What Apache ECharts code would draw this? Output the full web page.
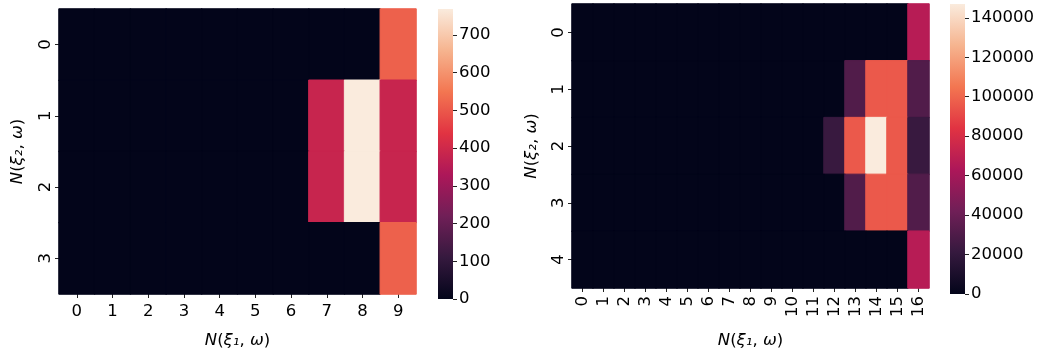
<!DOCTYPE html>
<html><head><meta charset="utf-8">
<script src="https://cdn.jsdelivr.net/npm/echarts@6/dist/echarts.min.js"></script>
<style>html,body{margin:0;padding:0;background:#fff}#c{width:1045px;height:354px}</style>
</head><body><div id="c"></div><script>
// ---- data ----
const leftXCats = ['0','1','2','3','4','5','6','7','8','9'];
const leftYCats = ['0','1','2','3'];
const leftValues = [
  [0,0,0,0,0,0,0,0,0,515],
  [0,0,0,0,0,0,0,384,769,384],
  [0,0,0,0,0,0,0,384,769,384],
  [0,0,0,0,0,0,0,0,0,515]
];
const leftMax = 769;
const leftTickStep = 100;

const rightXCats = ['0','1','2','3','4','5','6','7','8','9','10','11','12','13','14','15','16'];
const rightYCats = ['0','1','2','3','4'];
const rightValues = [
  [0,0,0,0,0,0,0,0,0,0,0,0,0,0,0,0,67000],
  [0,0,0,0,0,0,0,0,0,0,0,0,0,31000,96000,96000,31000],
  [0,0,0,0,0,0,0,0,0,0,0,0,22000,96000,147000,96000,22000],
  [0,0,0,0,0,0,0,0,0,0,0,0,0,31000,96000,96000,31000],
  [0,0,0,0,0,0,0,0,0,0,0,0,0,0,0,0,67000]
];
const rightMax = 147000;
const rightTickStep = 20000;

const rocket = ['#03051A','#35193e','#701f57','#ad1759','#e13342','#f37651','#f6b48f','#FAEBDD'];

// ---- helpers ----
function toCells(vals, max){
  const out = [];
  vals.forEach((row, r) => row.forEach((v, c) => {
    const col = echarts.color.lerp(v / max, rocket);
    out.push({value: [c, r, v], itemStyle: {color: col, borderColor: col, borderWidth: 1}});
  }));
  return out;
}
const FONT = "'DejaVu Sans', sans-serif";
const TXT = '#000';
const FS = 16.5;
const axisTitleRich = {
  i: {fontFamily: FONT, fontSize: 16.5, fontStyle: 'italic', color: TXT},
  n: {fontFamily: FONT, fontSize: 16.5, color: TXT}
};
function title(sub){ return '{i|N}{n|(}{i|ξ' + sub + '}{n|, }{i|ω}{n|)}'; }

function gradient(){
  const stops = rocket.map((c, i) => ({offset: i/(rocket.length-1), color: c}));
  return new echarts.graphic.LinearGradient(0, 1, 0, 0, stops);
}

const L = {left: 59, top: 9, width: 357, height: 290};
const LC = {left: 438, top: 9, width: 15, height: 290};
const R = {left: 572, top: 4, width: 357, height: 290};
const RC = {left: 950, top: 4, width: 15, height: 290};

const tickStyle = {show: true, length: 4, lineStyle: {color: '#222', width: 1}};
const catLabel = {fontFamily: FONT, fontSize: FS, color: TXT};
const plainNum = v => String(v);
const darkBg = {show: true, backgroundColor: rocket[0], borderWidth: 0};

const option = {
  backgroundColor: '#fff',
  animation: false,
  grid: [
    Object.assign({containLabel: false}, darkBg, L),
    Object.assign({containLabel: false}, LC),
    Object.assign({containLabel: false}, darkBg, R),
    Object.assign({containLabel: false}, RC)
  ],
  xAxis: [
    {type: 'category', gridIndex: 0, data: leftXCats, axisLine: {show: false},
     axisTick: Object.assign({alignWithLabel: true}, tickStyle), splitLine: {show: false},
     axisLabel: Object.assign({margin: 9}, catLabel),
     name: title('₁'), nameLocation: 'middle', nameGap: 38,
     nameTextStyle: {rich: axisTitleRich}},
    {type: 'category', gridIndex: 1, data: ['c'], show: false},
    {type: 'category', gridIndex: 2, data: rightXCats, axisLine: {show: false},
     axisTick: Object.assign({alignWithLabel: true}, tickStyle), splitLine: {show: false},
     axisLabel: Object.assign({margin: 8, rotate: 90, interval: 0}, catLabel),
     name: title('₁'), nameLocation: 'middle', nameGap: 44,
     nameTextStyle: {rich: axisTitleRich}},
    {type: 'category', gridIndex: 3, data: ['c'], show: false}
  ],
  yAxis: [
    {type: 'category', gridIndex: 0, data: leftYCats, inverse: true, axisLine: {show: false},
     axisTick: Object.assign({alignWithLabel: true}, tickStyle), splitLine: {show: false},
     axisLabel: Object.assign({margin: 5, rotate: 90}, catLabel),
     name: title('₂'), nameLocation: 'middle', nameGap: 33, nameRotate: 90,
     nameTextStyle: {rich: axisTitleRich}},
    {type: 'value', gridIndex: 1, position: 'right', min: 0, max: leftMax, interval: leftTickStep,
     axisLine: {show: false}, splitLine: {show: false}, axisTick: tickStyle,
     axisLabel: Object.assign({margin: 6, showMaxLabel: false, formatter: plainNum}, catLabel)},
    {type: 'category', gridIndex: 2, data: rightYCats, inverse: true, axisLine: {show: false},
     axisTick: Object.assign({alignWithLabel: true}, tickStyle), splitLine: {show: false},
     axisLabel: Object.assign({margin: 5, rotate: 90}, catLabel),
     name: title('₂'), nameLocation: 'middle', nameGap: 32, nameRotate: 90,
     nameTextStyle: {rich: axisTitleRich}},
    {type: 'value', gridIndex: 3, position: 'right', min: 0, max: rightMax, interval: rightTickStep,
     axisLine: {show: false}, splitLine: {show: false}, axisTick: tickStyle,
     axisLabel: Object.assign({margin: 6, showMaxLabel: false, formatter: plainNum}, catLabel)}
  ],
  series: [
    {type: 'heatmap', xAxisIndex: 0, yAxisIndex: 0, data: toCells(leftValues, leftMax), silent: true},
    {type: 'bar', xAxisIndex: 1, yAxisIndex: 1, data: [leftMax], barWidth: '100%', itemStyle: {color: gradient()}, silent: true},
    {type: 'heatmap', xAxisIndex: 2, yAxisIndex: 2, data: toCells(rightValues, rightMax), silent: true},
    {type: 'bar', xAxisIndex: 3, yAxisIndex: 3, data: [rightMax], barWidth: '100%', itemStyle: {color: gradient()}, silent: true}
  ]
};
const chart = echarts.init(document.getElementById('c'), null, {renderer: 'canvas'});
chart.setOption(option);
</script></body></html>
